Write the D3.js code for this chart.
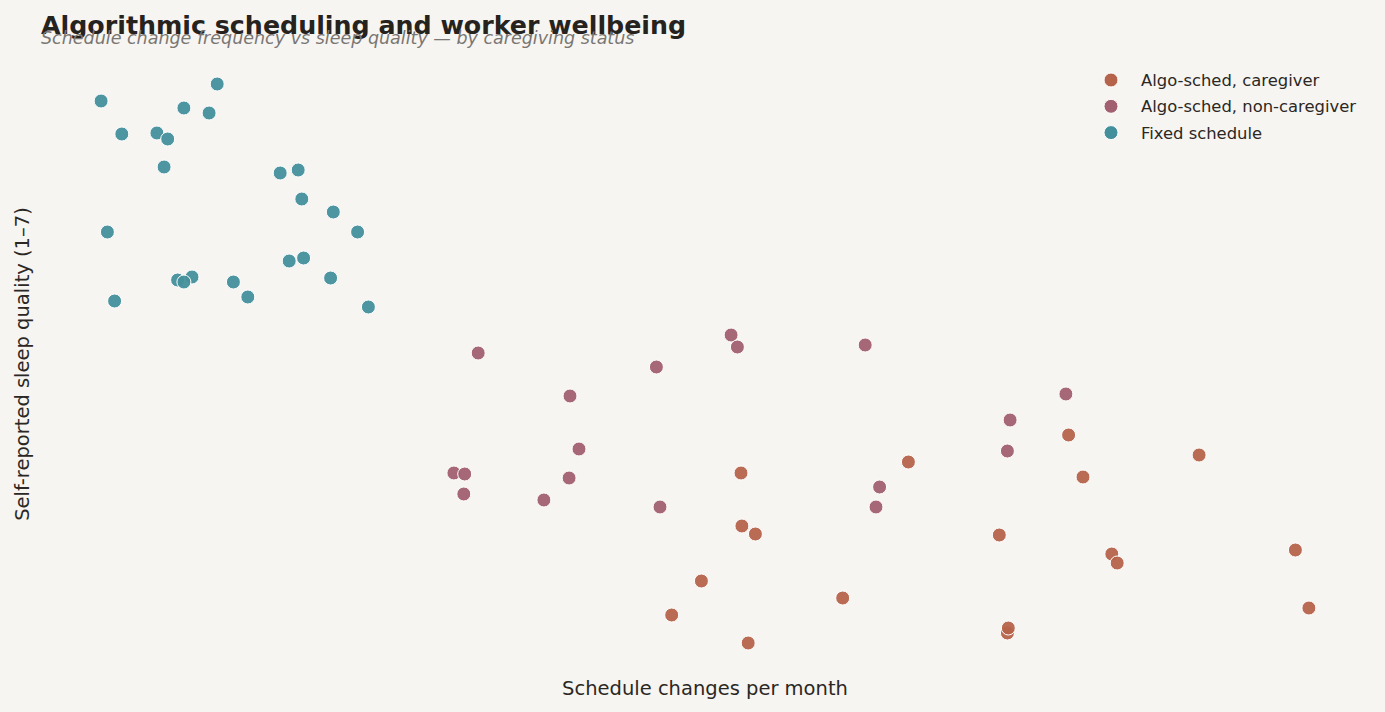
<!DOCTYPE html>
<html>
<head>
<meta charset="utf-8">
<script src="https://cdn.jsdelivr.net/npm/d3@7"></script>
<style>
  body { margin: 0; background: #f7f5f2; }
  svg { display: block; font-family: "DejaVu Sans", sans-serif; }
</style>
</head>
<body>
<div id="vis"></div>
<script>
//size of the page
const width = 1385
const height = 712

//groups, in legend order
const groups = ['Algo-sched, caregiver', 'Algo-sched, non-caregiver', 'Fixed schedule']
const colors = ['#b5634a', '#a15f70', '#438f9b']

//fixed schedule workers (changes per month, sleep quality)
const fixedX = [0.29, 1.58, 1.21, 1.49, 0.52, 0.91, 1.03, 0.99, 2.28, 2.48, 2.52, 2.87, 3.14, 0.36, 2.38, 2.54, 2.84, 1.14, 1.30, 1.21, 1.76, 1.92, 0.44, 3.26]
const fixedY = [6.59, 6.76, 6.52, 6.47, 6.26, 6.27, 6.21, 5.93, 5.87, 5.90, 5.61, 5.48, 5.28, 5.28, 4.99, 5.02, 4.82, 4.80, 4.83, 4.78, 4.78, 4.63, 4.59, 4.53]

//algo-sched, non-caregiver
const nonCareX = [4.48, 6.46, 7.29, 7.36, 8.78, 5.50, 5.60, 4.21, 4.33, 4.32, 5.49, 5.21, 6.50, 8.94, 8.90, 11.01, 10.39, 10.36]
const nonCareY = [4.07, 3.93, 4.25, 4.13, 4.15, 3.64, 3.11, 2.87, 2.86, 2.66, 2.82, 2.60, 2.53, 2.73, 2.53, 3.66, 3.40, 3.09]

//algo-sched, caregiver
const careX = [7.40, 7.41, 7.56, 6.96, 6.63, 7.48, 8.53, 9.26, 11.04, 11.20, 12.49, 10.27, 11.52, 11.58, 13.56, 13.71, 10.36, 10.37]
const careY = [2.87, 2.34, 2.26, 1.79, 1.45, 1.17, 1.62, 2.98, 3.25, 2.83, 3.05, 2.25, 2.06, 1.97, 2.10, 1.52, 1.27, 1.32]

//put the rows together, fixed first so the algo groups sit on top
const rows = []
fixedX.forEach((x, i) => rows.push({ group: groups[2], x: x, y: fixedY[i] }))
nonCareX.forEach((x, i) => rows.push({ group: groups[1], x: x, y: nonCareY[i] }))
careX.forEach((x, i) => rows.push({ group: groups[0], x: x, y: careY[i] }))

const svg = d3.select('#vis')
    .append('svg')
    .attr('width', width)
    .attr('height', height)

svg.append('rect')
    .attr('width', width)
    .attr('height', height)
    .attr('fill', '#f7f5f2')

//scales, the axes themselves are hidden in the original
const x = d3.scaleLinear().domain([0, 14]).range([75, 1335])
const y = d3.scaleLinear().domain([1, 7]).range([660, 60])
const color = d3.scaleOrdinal().domain(groups).range(colors)

//points
svg.append('g')
    .selectAll('circle')
    .data(rows)
    .enter()
    .append('circle')
    .attr('cx', d => x(d.x))
    .attr('cy', d => y(d.y))
    .attr('r', 7)
    .attr('fill', d => color(d.group))
    .attr('fill-opacity', 0.95)
    .attr('stroke', '#ffffff')
    .attr('stroke-width', 1)

//title and subtitle (they overlap a little in the original too)
svg.append('text')
    .attr('x', 41)
    .attr('y', 34)
    .attr('font-size', 25.3)
    .attr('font-weight', 'bold')
    .attr('fill', '#26221e')
    .text('Algorithmic scheduling and worker wellbeing')

svg.append('text')
    .attr('x', 41)
    .attr('y', 44)
    .attr('font-size', 17.5)
    .attr('font-style', 'italic')
    .attr('fill', '#7a7772')
    .text('Schedule change frequency vs sleep quality \u2014 by caregiving status')

//axis labels
svg.append('text')
    .attr('x', 705)
    .attr('y', 695)
    .attr('text-anchor', 'middle')
    .attr('font-size', 19.5)
    .attr('fill', '#2b2824')
    .text('Schedule changes per month')

svg.append('text')
    .attr('transform', 'translate(29, 364) rotate(-90)')
    .attr('text-anchor', 'middle')
    .attr('font-size', 19.5)
    .attr('fill', '#2b2824')
    .text('Self-reported sleep quality (1\u20137)')

//legend
const legend = svg.append('g')
    .selectAll('g')
    .data(groups)
    .enter()
    .append('g')
    .attr('transform', (d, i) => `translate(1111, ${80 + i * 26.3})`)

legend.append('circle')
    .attr('r', 7)
    .attr('fill', d => color(d))
    .attr('stroke', '#ffffff')
    .attr('stroke-width', 1)

legend.append('text')
    .attr('x', 30)
    .attr('y', 6)
    .attr('font-size', 16.4)
    .attr('fill', '#2b2824')
    .text(d => d)
</script>
</body>
</html>
